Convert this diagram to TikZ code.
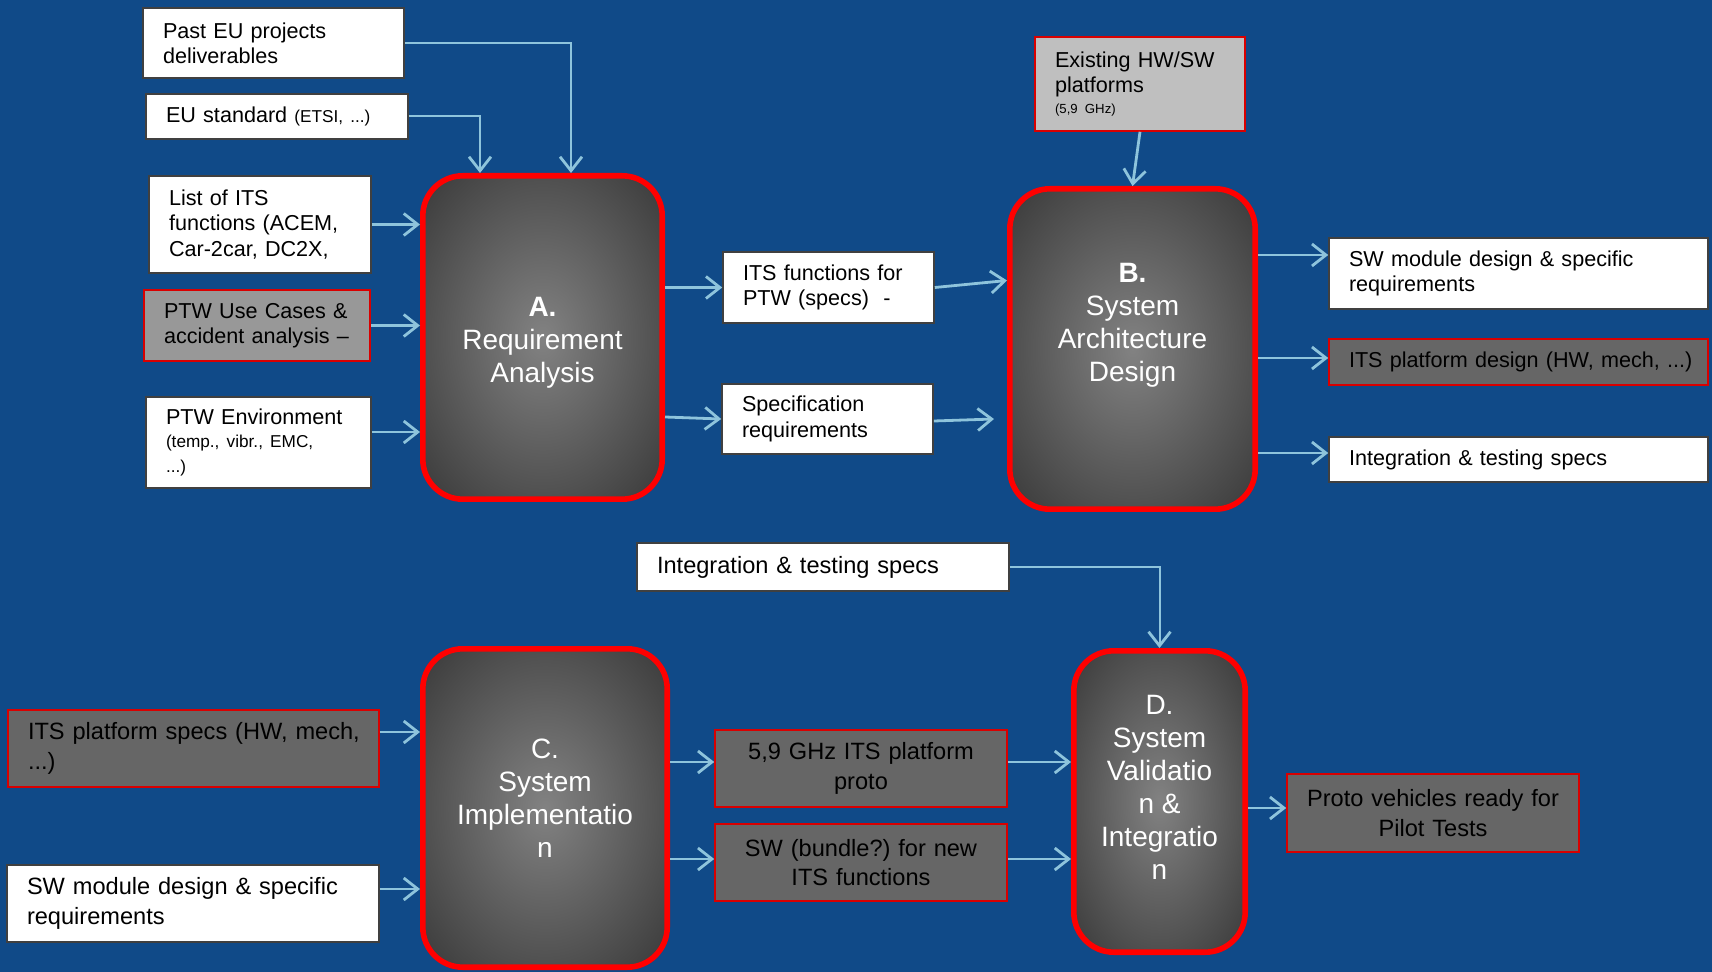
\documentclass[tikz,border=0pt]{standalone}
\usepackage{fontspec}
\setmainfont{Liberation Sans}
\usetikzlibrary{arrows.meta, positioning, calc}
\frenchspacing

\definecolor{slideblue}{RGB}{16,74,136}
\definecolor{arrowblue}{RGB}{142,196,220}
\definecolor{darkfill}{RGB}{102,102,102}
\definecolor{midfill}{RGB}{152,152,152}
\definecolor{palefill}{RGB}{191,191,191}
\definecolor{phasemid}{RGB}{130,130,130}
\definecolor{phaseedge}{RGB}{28,28,28}
\pgfdeclareradialshading{phaseshade}{\pgfpoint{0bp}{0bp}}{color(0bp)=(phasemid); color(50bp)=(phaseedge); color(72bp)=(phaseedge)}

\begin{document}
\begin{tikzpicture}[x=0.5pt, y=-0.5pt]

        % -----------------------------------------------------------------
        % STILI
        % -----------------------------------------------------------------
        \tikzset{
            inbox/.style={draw=black!75, fill=white, line width=0.8pt, inner xsep=10pt, inner ysep=2pt, align=left, text=black, font=\fontsize{10.8}{12.6}\selectfont},
            bigbox/.style={inbox, font=\fontsize{11.8}{14.8}\selectfont},
            redbox/.style={bigbox, draw=red!85!black, fill=darkfill},
            midbox/.style={redbox, align=center, inner xsep=2pt},
            phase/.style={draw=red, line width=2.8pt, rounded corners=20pt, shading=phaseshade, shade},
            phasetext/.style={text=white, align=center, font=\fontsize{14}{16.5}\selectfont},
            arrow/.style={draw=arrowblue, line width=1.4pt, -{Straight Barb[length=7pt, width=11pt, line width=1.4pt]}},
            elbow/.style={arrow, line width=1pt}
        }

        % Sfondo
        \fill[slideblue] (0,0) rectangle (1712,972);
        \useasboundingbox (0,0) rectangle (1712,972);

        % =================================================================
        % FASE A
        % =================================================================
        \node (lA) [phase, minimum width=119.7pt, minimum height=161.7pt] at (542.5,337.5) {};
        \node (tA) [phasetext] at ($(lA.center)+(0,5)$) {\textbf{A.}\\Requirement\\Analysis};

        % Ingressi
        \node (past) [inbox, text width=110.5pt, minimum height=35pt] at (273.5,43) {Past EU projects\\deliverables};
        \node (eustd) [inbox, text width=111pt, minimum height=22.5pt] at (277,116.5) {EU standard {\fontsize{8.6}{10}\selectfont (ETSI, ...)}};
        \node (list) [inbox, text width=91pt, minimum height=48.5pt] at (260,224.5) {List of ITS\\functions (ACEM,\\Car-2car, DC2X,};
        \node (usecase) [inbox, draw=red!85!black, fill=midfill, text width=93pt, minimum height=35.5pt] at (257,325.5) {PTW Use Cases \&\\accident analysis –};
        \node (env) [inbox, text width=92.5pt, minimum height=45.5pt] at (258.5,442.5) {PTW Environment\\\fontsize{8.6}{11.5}\selectfont (temp., vibr., EMC,\\...)};

        \draw[elbow] (past.east) -| ($(lA.north)+(28.5,0)$);
        \draw[elbow] (eustd.east) -| ($(lA.north)+(-62.5,0)$);
        \draw[arrow] (list.east) -- (list.east -| lA.west);
        \draw[arrow] (usecase.east) -- (usecase.east -| lA.west);
        \draw[arrow] ($(env.east)+(0,-10.5)$) -- ($(env.east -| lA.west)+(0,-10.5)$);

        % Uscite
        \node (func) [inbox, text width=85.5pt, minimum height=35.5pt] at (828.5,287.5) {ITS functions for\\PTW (specs)\ \ -};
        \node (spec) [inbox, text width=85.5pt, minimum height=35pt] at (827.5,419) {Specification\\requirements};

        \draw[arrow] (func.west -| lA.east) -- (func.west);
        \draw[arrow] ($(spec.west -| lA.east)+(0,-2)$) -- (spec.west);

        % =================================================================
        % FASE B
        % =================================================================
        \node (lB) [phase, minimum width=122.7pt, minimum height=160.2pt] at (1132.5,349) {};
        \node (tB) [phasetext] at ($(lB.center)+(0,-24)$) {\textbf{B.}\\System\\Architecture\\Design};

        \node (exist) [inbox, draw=red!85!black, fill=palefill, text width=85pt, minimum height=47pt] at (1140,84) {Existing HW/SW\\platforms\\[-2pt]{\fontsize{6.6}{8}\selectfont (5,9 GHz)}};

        \draw[arrow] (exist.south) -- (lB.north);
        \draw[arrow] (func.east) -- ($(func.east -| lB.west)+(0,-7)$);
        \draw[arrow] ($(spec.east)+(0,2)$) -- ($(spec.east -| lB.west)+(-13,0)$);

        % Uscite
        \node (swA) [inbox, text width=169.5pt, minimum height=35.5pt] at (1518.5,273.5) {SW module design \& specific\\requirements};
        \node (platA) [inbox, draw=red!85!black, fill=darkfill, text width=169.5pt, minimum height=23pt] at (1518.5,362) {\mbox{ITS platform design (HW, mech, ...)}};
        \node (intA) [inbox, text width=169.5pt, minimum height=22.5pt] at (1518.5,459.5) {Integration \& testing specs};

        \draw[arrow] ($(swA.west -| lB.east)+(0,-18.5)$) -- ($(swA.west)+(0,-18.5)$);
        \draw[arrow] ($(platA.west -| lB.east)+(0,-4)$) -- ($(platA.west)+(0,-4)$);
        \draw[arrow] ($(intA.west -| lB.east)+(0,-6.5)$) -- ($(intA.west)+(0,-6.5)$);

        % =================================================================
        % FASE C
        % =================================================================
        \node (lC) [phase, minimum width=122.2pt, minimum height=159.2pt] at (545,808) {};
        \node (tC) [phasetext] at ($(lC.center)+(0,-10)$) {C.\\System\\Implementatio\\n};

        \node (platspec) [redbox, text width=165.5pt, minimum height=38.5pt] at (193.5,748.5) {\mbox{ITS platform specs (HW, mech,}\\...)};
        \node (swB) [bigbox, text width=166pt, minimum height=38.5pt] at (193,903.5) {SW module design \& specific\\requirements};

        \draw[arrow] ($(platspec.east)+(0,-16.5)$) -- ($(platspec.east -| lC.west)+(0,-16.5)$);
        \draw[arrow] ($(swB.east)+(0,-14.5)$) -- ($(swB.east -| lC.west)+(0,-14.5)$);

        % Uscite
        \node (ghz) [midbox, text width=142pt, minimum height=38.5pt] at (861,768.5) {5,9 GHz ITS platform\\proto};
        \node (bundle) [midbox, text width=142pt, minimum height=38.5pt] at (861,862.5) {SW (bundle?) for new\\ITS functions};

        \draw[arrow] ($(ghz.west -| lC.east)+(0,-6.5)$) -- ($(ghz.west)+(0,-6.5)$);
        \draw[arrow] ($(bundle.west -| lC.east)+(0,-3.5)$) -- ($(bundle.west)+(0,-3.5)$);

        % =================================================================
        % FASE D
        % =================================================================
        \node (lD) [phase, minimum width=85.7pt, minimum height=150.7pt] at (1159.5,801.5) {};
        \node (tD) [phasetext] at ($(lD.center)+(0,-14)$) {D.\\System\\Validatio\\n \&\\Integratio\\n};

        \node (intB) [bigbox, text width=166pt, minimum height=24pt] at (823,567) {Integration \& testing specs};
        \node (proto) [midbox, text width=142pt, minimum height=39pt] at (1433,813) {Proto vehicles ready for\\Pilot Tests};

        \draw[elbow] (intB.east) -| (lD.north);
        \draw[arrow] ($(ghz.east)+(0,-6.5)$) -- ($(ghz.east -| lD.west)+(0,-6.5)$);
        \draw[arrow] ($(bundle.east)+(0,-3.5)$) -- ($(bundle.east -| lD.west)+(0,-3.5)$);
        \draw[arrow] ($(lD.east |- proto.west)+(0,-5)$) -- ($(proto.west)+(0,-5)$);

\end{tikzpicture}
\end{document}
